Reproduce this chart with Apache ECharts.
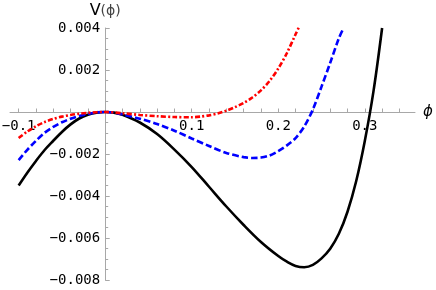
<!DOCTYPE html>
<html><head><meta charset="utf-8">
<script src="https://cdn.jsdelivr.net/npm/echarts@6/dist/echarts.min.js"></script>
<style>html,body{margin:0;padding:0;background:#fff}#c{width:436px;height:290px}</style>
</head><body><div id="c"></div>
<script>
// phi values and potential values
const phiBlack = [-0.10,-0.09,-0.08,-0.07,-0.06,-0.05,-0.04,-0.03,-0.02,-0.01,0,0.01,0.02,0.04,0.06,0.08,0.10,0.12,0.14,0.16,0.18,0.20,0.21,0.22,0.23,0.24,0.25,0.26,0.27,0.28,0.29,0.30,0.31,0.32];
const vBlack   = [-0.00350,-0.00289,-0.00233,-0.00181,-0.00137,-0.00095,-0.00059,-0.00031,-0.00013,-0.00003,0,-0.00003,-0.00013,-0.00050,-0.00105,-0.00179,-0.00262,-0.00356,-0.00450,-0.00538,-0.00619,-0.00686,-0.00713,-0.00733,-0.00739,-0.00728,-0.00697,-0.00651,-0.00580,-0.00475,-0.00330,-0.00138,0.00098,0.00400];

const phiBlue = [-0.10,-0.09,-0.08,-0.07,-0.06,-0.05,-0.04,-0.03,-0.02,-0.01,0,0.01,0.02,0.04,0.06,0.08,0.10,0.12,0.14,0.16,0.17,0.18,0.19,0.20,0.21,0.22,0.23,0.24,0.25,0.26,0.27,0.2755];
const vBlue   = [-0.00229,-0.00180,-0.00137,-0.00099,-0.00071,-0.00049,-0.00032,-0.00019,-0.00009,-0.00002,0,-0.00003,-0.00012,-0.00032,-0.00057,-0.00089,-0.00126,-0.00162,-0.00195,-0.00215,-0.00219,-0.00217,-0.00207,-0.00186,-0.00159,-0.00124,-0.00069,0.00012,0.00121,0.00234,0.00351,0.00400];

const phiRed = [-0.10,-0.09,-0.08,-0.07,-0.06,-0.05,-0.04,-0.03,-0.02,-0.01,0,0.02,0.04,0.06,0.08,0.10,0.11,0.12,0.13,0.14,0.15,0.16,0.17,0.18,0.19,0.20,0.21,0.22,0.224];
const vRed   = [-0.00124,-0.00093,-0.00068,-0.00048,-0.00033,-0.00022,-0.00014,-0.00008,-0.00004,-0.00001,0,-0.00006,-0.00014,-0.00020,-0.00024,-0.00025,-0.00022,-0.00016,-0.00007,0.00006,0.00023,0.00043,0.00069,0.00103,0.00148,0.00207,0.00281,0.00370,0.00405];

const xLabelTicks = [-0.1, 0.1, 0.2, 0.3];
const xAllTicks = [-0.1,-0.08,-0.06,-0.04,-0.02,0.02,0.04,0.06,0.08,0.1,0.12,0.14,0.16,0.18,0.2,0.22,0.24,0.26,0.28,0.3,0.32,0.34];

const X_MIN = -0.11, X_MAX = 0.358, Y_MIN = -0.008, Y_MAX = 0.004;
const G = { left: 10, right: 21, top: 28, bottom: 10 };
const W = 436, H = 290;
// place axes through the origin (offsets computed from the grid scale)
const plotW = W - G.left - G.right, plotH = H - G.top - G.bottom;
const yAxisOffset = -((0 - X_MIN) / (X_MAX - X_MIN)) * plotW;
const xAxisOffset = -((0 - Y_MIN) / (Y_MAX - Y_MIN)) * plotH;

function zip(a, b) { return a.map((x, i) => [x, b[i]]); }
function fmt(v, d) {
  if (Math.abs(v) < 1e-12) return '';
  return (v < 0 ? '\u2212' : '') + Math.abs(v).toFixed(d);
}

const axisGray = '#a8a8a8';
const chart = echarts.init(document.getElementById('c'), null, { renderer: 'canvas' });
chart.setOption({
  animation: false,
  backgroundColor: '#ffffff',
  grid: { left: G.left, right: G.right, top: G.top, bottom: G.bottom, containLabel: false, outerBoundsMode: 'none' },
  xAxis: {
    type: 'value', min: X_MIN, max: X_MAX, position: 'bottom', offset: xAxisOffset,
    axisLine: { onZero: false, lineStyle: { color: axisGray, width: 1 } },
    axisTick: { show: true, inside: true, length: 3.5, customValues: xAllTicks, lineStyle: { color: axisGray } },
    axisLabel: { customValues: xLabelTicks, formatter: v => fmt(v, 1), fontFamily: 'DejaVu Sans Mono', fontSize: 14, color: '#000', margin: 7 },
    splitLine: { show: false },
    name: '\u03d5', nameLocation: 'end', nameGap: 8,
    nameTextStyle: { fontFamily: 'DejaVu Sans', fontStyle: 'italic', fontSize: 15, color: '#000', verticalAlign: 'middle' }
  },
  yAxis: {
    type: 'value', min: Y_MIN, max: Y_MAX, interval: 0.002, position: 'left', offset: yAxisOffset,
    axisLine: { onZero: false, lineStyle: { color: axisGray, width: 1 } },
    axisTick: { show: true, inside: true, length: 4.5, lineStyle: { color: axisGray } },
    minorTick: { show: true, splitNumber: 4, length: 3, lineStyle: { color: axisGray } },
    axisLabel: { formatter: v => fmt(v, 3), fontFamily: 'DejaVu Sans Mono', fontSize: 14, color: '#000', margin: 5 },
    splitLine: { show: false }, minorSplitLine: { show: false },
    name: '{v|V}{p|(\u03d5)}', nameLocation: 'end', nameGap: 9,
    nameTextStyle: {
      rich: {
        v: { fontFamily: 'DejaVu Sans', fontSize: 16, color: '#000' },
        p: { fontFamily: 'DejaVu Sans', fontSize: 14, color: '#444' }
      }
    }
  },
  series: [
    { type: 'line', data: zip(phiBlack, vBlack), showSymbol: false, smooth: 0.35, clip: true,
      lineStyle: { color: '#000000', width: 2.6, type: 'solid' } },
    { type: 'line', data: zip(phiBlue, vBlue), showSymbol: false, smooth: 0.3, clip: true,
      lineStyle: { color: '#0000ff', width: 2.6, type: [6.5, 3] } },
    { type: 'line', data: zip(phiRed, vRed), showSymbol: false, smooth: 0.3, clip: true,
      lineStyle: { color: '#ff0000', width: 2.6, type: [5, 2.2, 2, 2.2] } }
  ]
});
</script>
</body></html>
